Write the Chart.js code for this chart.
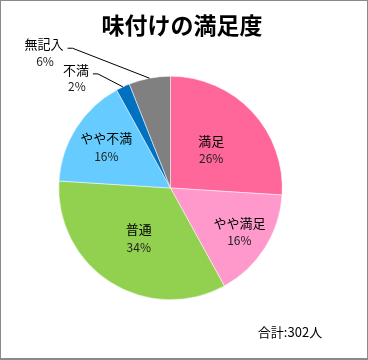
<!DOCTYPE html>
<html>
<head>
<meta charset="utf-8">
<script src="https://cdn.jsdelivr.net/npm/chart.js@4"></script>
<style>
  html, body { margin: 0; padding: 0; background: #fff; }
  #wrap { position: relative; width: 368px; height: 360px; }
</style>
</head>
<body>
<div id="wrap"><canvas id="pie" width="368" height="360"></canvas></div>
<script>
// データ（％）
const labels = ['満足', 'やや満足', '普通', 'やや不満', '不満', '無記入'];
const values = [26, 16, 34, 16, 2, 6];
const colors = ['#FF6699', '#FF99CC', '#92D050', '#66CCFF', '#0070C0', '#808080'];
const chartTitle = '味付けの満足度';
const totalText = '合計:302人';

const JP = '"Noto Sans CJK JP", "Noto Sans", sans-serif';

// ラベル位置（スライス内は半径比、外側は引き出し線）
const insideRadius = [0.5, 0.73, 0.53, 0.68];
const outsideOffset = { 4: [-25, -13], 5: [-77, -30] };

const labelPlugin = {
  id: 'pieLabels',
  afterDraw(chart) {
    const ctx = chart.ctx;
    const meta = chart.getDatasetMeta(0);
    const total = values.reduce((a, b) => a + b, 0);

    ctx.save();
    // 枠
    ctx.strokeStyle = '#8a8a8a';
    ctx.lineWidth = 1;
    ctx.strokeRect(0.5, 0.5, chart.width - 1, chart.height - 1);
    ctx.fillStyle = '#8a8a8a';
    ctx.fillRect(0, chart.height - 2, chart.width, 2);

    // タイトル
    ctx.fillStyle = '#000';
    ctx.textAlign = 'center';
    ctx.textBaseline = 'middle';
    ctx.font = 'bold 23px ' + JP;
    ctx.fillText(chartTitle, 182, 25);

    meta.data.forEach((arc, i) => {
      const pct = Math.round(values[i] / total * 100) + '%';
      const mid = (arc.startAngle + arc.endAngle) / 2;
      if (i < insideRadius.length) {
        const r = arc.outerRadius * insideRadius[i];
        const x = arc.x + Math.cos(mid) * r;
        const y = arc.y + Math.sin(mid) * r;
        ctx.fillStyle = '#000';
        ctx.font = '13px ' + JP;
        ctx.fillText(labels[i], x, y - 9);
        ctx.fillStyle = '#222';
        ctx.font = '12px ' + JP;
        ctx.fillText(pct, x, y + 9);
      } else {
        const ex = arc.x + Math.cos(mid) * arc.outerRadius;
        const ey = arc.y + Math.sin(mid) * arc.outerRadius;
        const off = outsideOffset[i];
        const lx = ex + off[0];
        const ly = ey + off[1];
        ctx.strokeStyle = '#000';
        ctx.lineWidth = 1;
        ctx.beginPath();
        ctx.moveTo(lx - 5, ly);
        ctx.lineTo(lx, ly);
        ctx.lineTo(ex, ey);
        ctx.stroke();
        ctx.fillStyle = '#000';
        ctx.font = '13px ' + JP;
        const tw = ctx.measureText(labels[i]).width;
        const cx = lx - 9 - tw / 2;
        ctx.fillText(labels[i], cx, ly - 4);
        ctx.fillStyle = '#222';
        ctx.font = '12px ' + JP;
        ctx.fillText(pct, cx + 1, ly + 13);
      }
    });

    // 合計
    ctx.fillStyle = '#000';
    ctx.font = '13px ' + JP;
    ctx.fillText(totalText, 290, 332);
    ctx.restore();
  }
};

new Chart(document.getElementById('pie'), {
  type: 'pie',
  data: {
    labels: labels,
    datasets: [{
      data: values,
      backgroundColor: colors,
      borderColor: '#ffffff',
      borderWidth: 0.5
    }]
  },
  options: {
    responsive: false,
    animation: false,
    layout: { padding: { left: 58, right: 85, top: 76, bottom: 60 } },
    plugins: {
      legend: { display: false },
      tooltip: { enabled: false },
      title: { display: false }
    }
  },
  plugins: [labelPlugin]
});
</script>
</body>
</html>
